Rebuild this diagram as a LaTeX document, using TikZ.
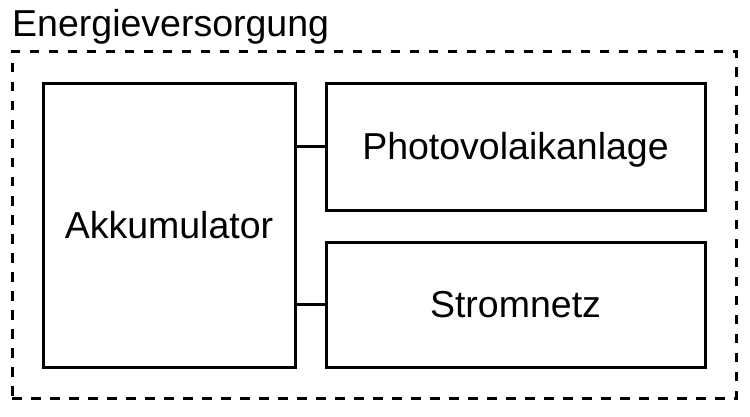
\documentclass[tikz,border=0pt]{standalone}
\usepackage{fontspec}
\setmainfont{Liberation Sans}
\begin{document}
\begin{tikzpicture}[x=1pt,y=-1pt,
  blockbox/.style={draw=black,line width=3pt,rectangle,inner sep=0pt,outer sep=0pt,font=\fontsize{37.5}{44}\selectfont,align=center,text height=26pt,text depth=0pt},
  groupbox/.style={draw=black,line width=3pt,dash pattern=on 9.5pt off 9.5pt,rectangle,inner sep=0pt,outer sep=0pt},
  link/.style={draw=black,line width=3pt}]
\useasboundingbox (0,0) rectangle (750,417);
\node[groupbox,minimum width=724pt,minimum height=346pt] (grp) at (374,225) {};
\node[anchor=base west,font=\fontsize{37.5}{44}\selectfont,inner sep=0pt] (title) at (12,37) {Energieversorgung};
\node[blockbox,minimum width=252pt,minimum height=283pt] (akk) at (169,225.5) {Akkumulator};
\node[blockbox,minimum width=379pt,minimum height=126pt] (photo) at (515.5,147) {Photovolaikanlage};
\node[blockbox,minimum width=379pt,minimum height=125pt] (strom) at (515.5,304.5) {Stromnetz};
\draw[link] (akk.east |- photo.west) -- (photo.west);
\draw[link] (akk.east |- strom.west) -- (strom.west);
\end{tikzpicture}
\end{document}
